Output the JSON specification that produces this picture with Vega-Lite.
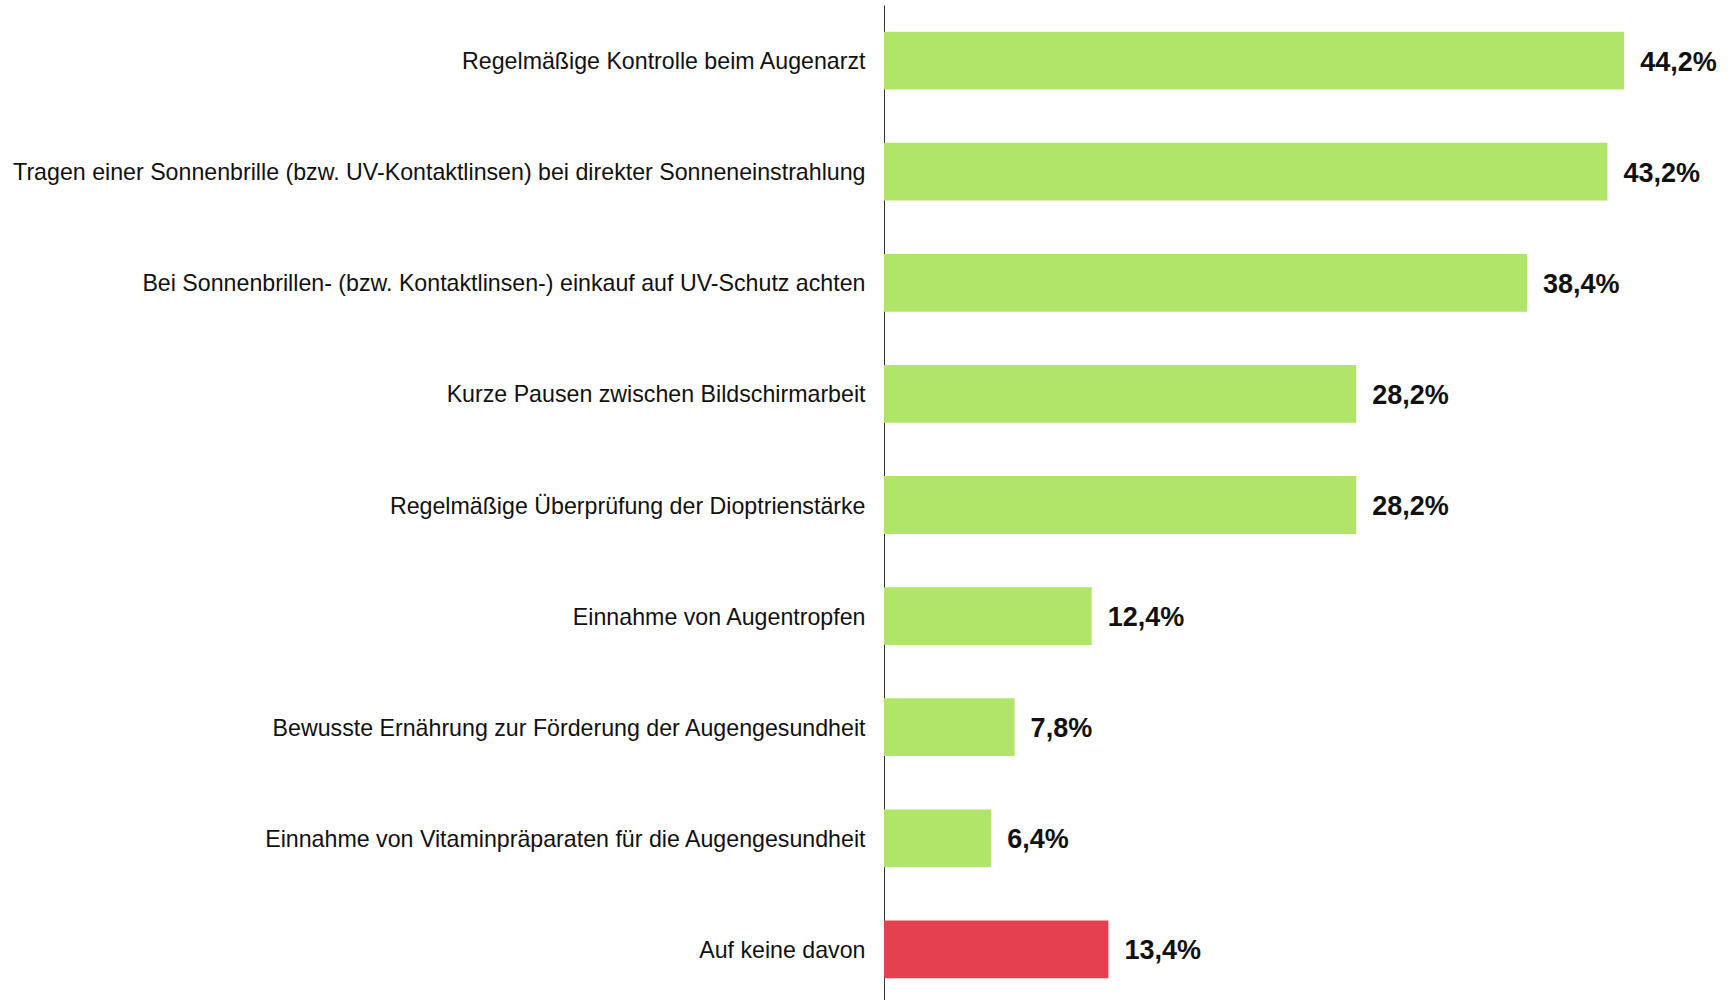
{
  "$schema": "https://vega.github.io/schema/vega-lite/v6.json",
  "autosize": "none",
  "width": 849,
  "height": 1000,
  "padding": {"left": 884, "top": 5, "right": 0, "bottom": 0},
  "background": "white",
  "data": {
    "values": [
      {"massnahme": "Regelmäßige Kontrolle beim Augenarzt", "wert": 44.2, "text": "44,2%", "gruppe": "ja"},
      {"massnahme": "Tragen einer Sonnenbrille (bzw. UV-Kontaktlinsen) bei direkter Sonneneinstrahlung", "wert": 43.2, "text": "43,2%", "gruppe": "ja"},
      {"massnahme": "Bei Sonnenbrillen- (bzw. Kontaktlinsen-) einkauf auf UV-Schutz achten", "wert": 38.4, "text": "38,4%", "gruppe": "ja"},
      {"massnahme": "Kurze Pausen zwischen Bildschirmarbeit", "wert": 28.2, "text": "28,2%", "gruppe": "ja"},
      {"massnahme": "Regelmäßige Überprüfung der Dioptrienstärke", "wert": 28.2, "text": "28,2%", "gruppe": "ja"},
      {"massnahme": "Einnahme von Augentropfen", "wert": 12.4, "text": "12,4%", "gruppe": "ja"},
      {"massnahme": "Bewusste Ernährung zur Förderung der Augengesundheit", "wert": 7.8, "text": "7,8%", "gruppe": "ja"},
      {"massnahme": "Einnahme von Vitaminpräparaten für die Augengesundheit", "wert": 6.4, "text": "6,4%", "gruppe": "ja"},
      {"massnahme": "Auf keine davon", "wert": 13.4, "text": "13,4%", "gruppe": "nein"}
    ]
  },
  "encoding": {
    "y": {
      "field": "massnahme",
      "type": "nominal",
      "sort": null,
      "scale": {"paddingInner": 0.48, "paddingOuter": 0.24},
      "axis": {
        "title": null,
        "ticks": false,
        "labelFont": "Liberation Sans",
        "labelFontSize": 23.2,
        "labelColor": "#111111",
        "labelPadding": 19,
        "labelOffset": 1.5,
        "labelLimit": 0,
        "domainColor": "#333333",
        "domainWidth": 1
      }
    },
    "x": {
      "field": "wert",
      "type": "quantitative",
      "scale": {"domain": [0, 50.7], "nice": false},
      "axis": null
    }
  },
  "layer": [
    {
      "mark": {"type": "bar"},
      "encoding": {
        "color": {
          "field": "gruppe",
          "type": "nominal",
          "scale": {"domain": ["ja", "nein"], "range": ["#b1e56a", "#e5404f"]},
          "legend": null
        }
      }
    },
    {
      "mark": {"type": "text", "align": "left", "baseline": "middle", "dx": 16, "dy": 2, "font": "Liberation Sans", "fontWeight": "bold", "fontSize": 27, "color": "#111111"},
      "encoding": {"text": {"field": "text"}}
    }
  ],
  "config": {"view": {"stroke": null}, "axis": {"grid": false}}
}
